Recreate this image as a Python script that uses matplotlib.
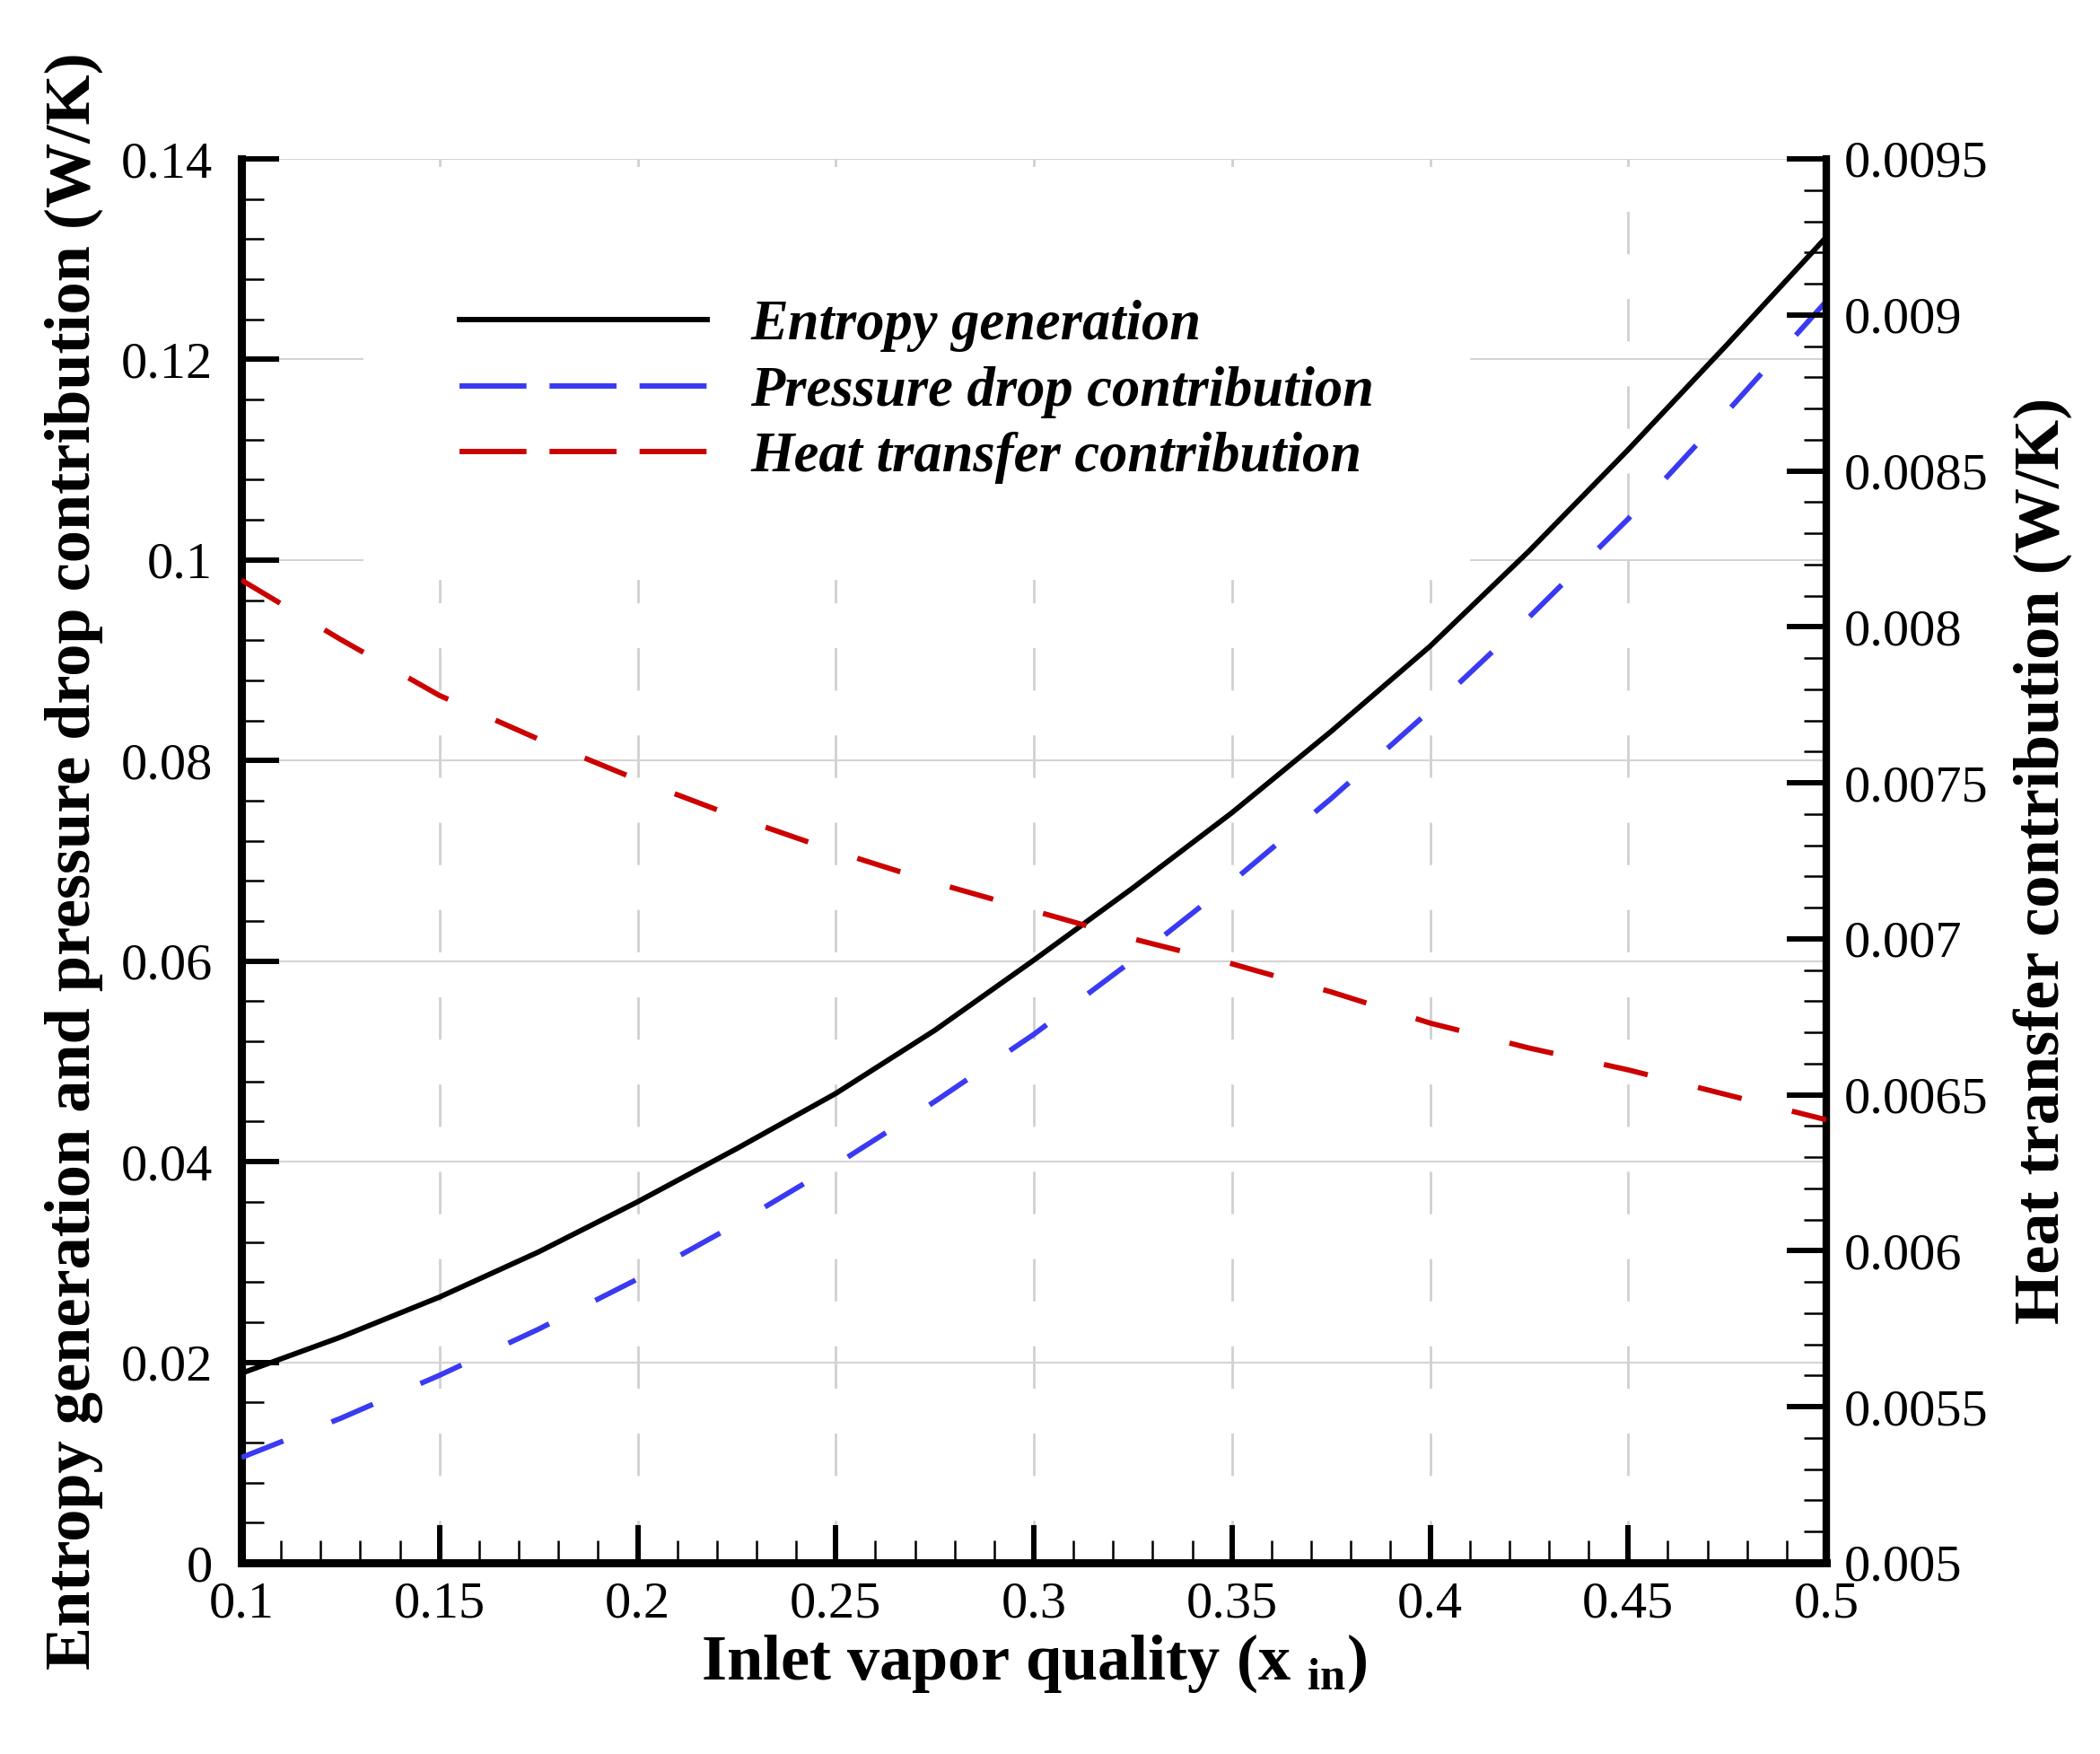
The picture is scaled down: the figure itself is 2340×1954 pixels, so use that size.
import matplotlib
matplotlib.use("Agg")
import matplotlib.pyplot as plt
from matplotlib.lines import Line2D
from matplotlib.ticker import MultipleLocator, FuncFormatter

plt.rcParams['font.family'] = ['Liberation Serif', 'DejaVu Serif']
plt.rcParams['mathtext.fontset'] = 'custom'
plt.rcParams['mathtext.rm'] = 'Liberation Serif'
plt.rcParams['mathtext.bf'] = 'Liberation Serif:bold'

# ---- data ----
x_in = [0.1, 0.125, 0.15, 0.175, 0.2, 0.225, 0.25, 0.275, 0.3, 0.325,
        0.35, 0.375, 0.4, 0.425, 0.45, 0.475, 0.5]
entropy_gen = [0.0189, 0.0225, 0.0265, 0.0310, 0.0360, 0.0413, 0.0468, 0.0531,
               0.0601, 0.0673, 0.0748, 0.0829, 0.0914, 0.1009, 0.1110, 0.1215, 0.1322]
pressure_drop = [0.0105, 0.0144, 0.0187, 0.0233, 0.0283, 0.0338, 0.0397, 0.0460,
                 0.0527, 0.0601, 0.0679, 0.0762, 0.0850, 0.0943, 0.1041, 0.1148, 0.1258]
heat_transfer = [0.00815, 0.00796, 0.00778, 0.00764, 0.00751, 0.00739, 0.00728, 0.00718,
                 0.00709, 0.00700, 0.00692, 0.00683, 0.00673, 0.00665, 0.00658, 0.00650, 0.00642]

labels = ["Entropy generation", "Pressure drop contribution", "Heat transfer contribution"]
xlabel = r"Inlet vapor quality (x $_{\mathbf{in}}$)"
ylabel_left = "Entropy generation and pressure drop contribution (W/K)"
ylabel_right = "Heat transfer contribution (W/K)"

BLACK = "#000000"
BLUE = "#3a3af2"
RED = "#cc0000"

W, H = 2340, 1954
fig = plt.figure(figsize=(W / 100, H / 100), dpi=100)
L, R, T, B = 269, 2035, 177, 1741
ax = fig.add_axes([L / W, 1 - B / H, (R - L) / W, (B - T) / H])
ax2 = ax.twinx()

lw = 4.2
dash = (8.6, 9.9)
ax.plot(x_in, entropy_gen, color=BLACK, lw=lw, zorder=3, solid_capstyle='butt')
ax.plot(x_in, pressure_drop, color=BLUE, lw=lw, zorder=3, linestyle=(0, dash))
ax2.plot(x_in, heat_transfer, color=RED, lw=lw, zorder=3, linestyle=(0, dash))

ax.set_xlim(0.1, 0.5)
ax.set_ylim(0, 0.14)
ax2.set_ylim(0.005, 0.0095)

fmt = FuncFormatter(lambda v, p: "%g" % round(v, 6))
ax.xaxis.set_major_locator(MultipleLocator(0.05))
ax.xaxis.set_minor_locator(MultipleLocator(0.01))
ax.yaxis.set_major_locator(MultipleLocator(0.02))
ax.yaxis.set_minor_locator(MultipleLocator(0.004))
ax2.yaxis.set_major_locator(MultipleLocator(0.0005))
ax2.yaxis.set_minor_locator(MultipleLocator(0.0001))
ax.xaxis.set_major_formatter(fmt)
ax.yaxis.set_major_formatter(fmt)
ax2.yaxis.set_major_formatter(fmt)

tick_fs = 42
ax.tick_params(axis='both', which='major', direction='in', length=30, width=4.3,
               labelsize=tick_fs, top=False, right=False)
ax.tick_params(axis='both', which='minor', direction='in', length=18, width=1.8,
               top=False, right=False)
ax.tick_params(axis='y', which='major', pad=23)
ax.tick_params(axis='x', which='major', pad=15)
ax2.tick_params(axis='y', which='major', direction='in', length=32, width=4.3,
                labelsize=tick_fs, pad=14, left=False)
ax2.tick_params(axis='y', which='minor', direction='in', length=18, width=1.8, left=False)

for a in (ax, ax2):
    a.spines['top'].set_visible(False)
ax.spines['right'].set_visible(False)
ax2.spines['left'].set_visible(False)
ax.spines['left'].set_linewidth(6.5)
ax.spines['bottom'].set_linewidth(6.5)
ax2.spines['right'].set_linewidth(6.0)
ax2.spines['bottom'].set_visible(False)

ax.set_axisbelow(True)
ax.grid(axis='y', which='major', color='#d4d4d4', lw=1.5, ls='-')
ax.grid(axis='x', which='major', color='#d0d0d0', lw=2.0, ls=(0, (17, 18)))

lab_fs = 52
ax.set_xlabel(xlabel, fontsize=lab_fs, fontweight='bold')
ax.xaxis.label.set_va('center')
ax.xaxis.set_label_coords(0.5, -0.0716)
ax.set_ylabel(ylabel_left, fontsize=lab_fs, fontweight='bold')
ax.yaxis.label.set_va('center')
ax.yaxis.set_label_coords(-0.106, 0.5)
ax2.set_ylabel(ylabel_right, fontsize=lab_fs, fontweight='bold', rotation=90)
ax2.yaxis.label.set_va('center')
ax2.yaxis.set_label_coords(1.1365, 0.5)

leg_dash = (12.5, 4.3)
handles = [
    Line2D([], [], color=BLACK, lw=4.3),
    Line2D([], [], color=BLUE, lw=4.3, linestyle=(0, leg_dash)),
    Line2D([], [], color=RED, lw=4.3, linestyle=(0, leg_dash)),
]
leg = ax.legend(handles, labels, loc='upper left', bbox_to_anchor=(0.077, 0.968),
                prop={'family': 'Liberation Serif', 'weight': 'bold', 'style': 'italic',
                      'size': 45},
                frameon=True, facecolor='white', edgecolor='none', framealpha=1.0,
                fancybox=False, handlelength=4.42, handletextpad=0.77,
                borderpad=1.71, labelspacing=0.25, borderaxespad=0)
leg.set_zorder(2.5)

fig.savefig("out.png", dpi=100, facecolor='white')
